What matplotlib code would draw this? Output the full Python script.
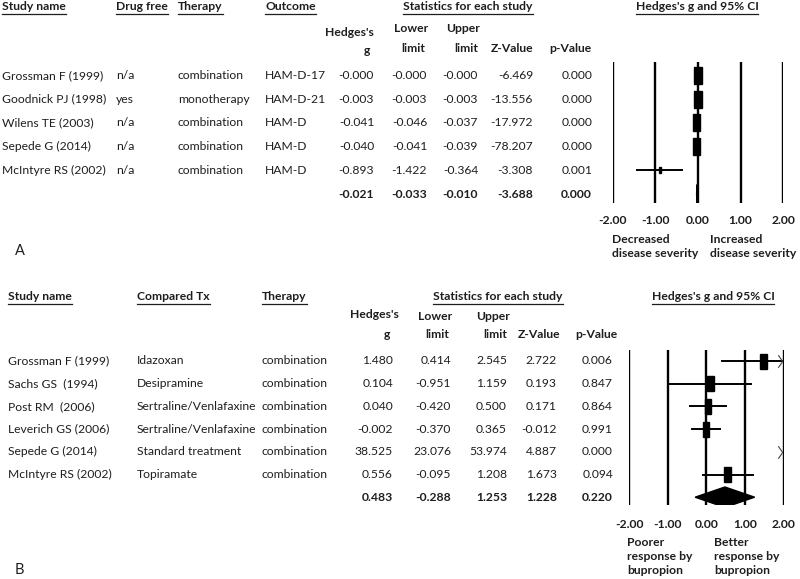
import numpy as np
import matplotlib
matplotlib.use("Agg")
import matplotlib.pyplot as plt
from matplotlib.patches import Rectangle, Polygon
from matplotlib.lines import Line2D
from matplotlib.path import Path

# ---------------- Data ----------------
# Panel A
a_study = ["Grossman F (1999)", "Goodnick PJ (1998)", "Wilens TE (2003)",
           "Sepede G (2014)", "McIntyre RS (2002)"]
a_drugfree = ["n/a", "yes", "n/a", "n/a", "n/a"]
a_therapy = ["combination", "monotherapy", "combination", "combination", "combination"]
a_outcome = ["HAM-D-17", "HAM-D-21", "HAM-D", "HAM-D", "HAM-D"]
a_g = [-0.000, -0.003, -0.041, -0.040, -0.893]
a_lower = [-0.000, -0.003, -0.046, -0.041, -1.422]
a_upper = [-0.000, -0.003, -0.037, -0.039, -0.364]
a_z = [-6.469, -13.556, -17.972, -78.207, -3.308]
a_p = [0.000, 0.000, 0.000, 0.000, 0.001]
a_sum = [-0.021, -0.033, -0.010, -3.688, 0.000]  # g, lower, upper, z, p
a_g_str = ["-0.000", "-0.003", "-0.041", "-0.040", "-0.893"]
a_lo_str = ["-0.000", "-0.003", "-0.046", "-0.041", "-1.422"]
a_up_str = ["-0.000", "-0.003", "-0.037", "-0.039", "-0.364"]

# Panel B
b_study = ["Grossman F (1999)", "Sachs GS  (1994)", "Post RM  (2006)",
           "Leverich GS (2006)", "Sepede G (2014)", "McIntyre RS (2002)"]
b_compared = ["Idazoxan", "Desipramine", "Sertraline/Venlafaxine",
              "Sertraline/Venlafaxine", "Standard treatment", "Topiramate"]
b_therapy = ["combination"] * 6
b_g = [1.480, 0.104, 0.040, -0.002, 38.525, 0.556]
b_lower = [0.414, -0.951, -0.420, -0.370, 23.076, -0.095]
b_upper = [2.545, 1.159, 0.500, 0.365, 53.974, 1.208]
b_z = [2.722, 0.193, 0.171, -0.012, 4.887, 1.673]
b_p = [0.006, 0.847, 0.864, 0.991, 0.000, 0.094]
b_sum = [0.483, -0.288, 1.253, 1.228, 0.220]

ticks = [-2.0, -1.0, 0.0, 1.0, 2.0]

# ---------------- Style / layout ----------------
W, H = 800, 579
FONT = ["Lato", "DejaVu Sans"]
FS = 8.7
TC = "#1e1e1e"
plt.rcParams["font.family"] = FONT

fig = plt.figure(figsize=(W / 100, H / 100), dpi=100)
fig.patch.set_facecolor("white")

def fx(x):
    return x / W

def fy(y):
    return 1 - y / H

def txt(x, y, s, ha="left", bold=False, size=FS):
    return fig.text(fx(x), fy(y), s, ha=ha, va="center", fontsize=size,
                    color=TC, fontweight="bold" if bold else "normal")

underlined = []

def hdr(x, y, s, ha="left"):
    t = txt(x, y, s, ha=ha, bold=True)
    underlined.append(t)
    return t

def fmt(v):
    return f"{v:.3f}"

# ---------------- Panel A table ----------------
ya_hdr = 7
hdr(2, ya_hdr, "Study name")
hdr(116, ya_hdr, "Drug free")
hdr(178, ya_hdr, "Therapy")
hdr(265, ya_hdr, "Outcome")
hdr(468, ya_hdr, "Statistics for each study", ha="center")
hdr(697, ya_hdr, "Hedges's g and 95% CI", ha="center")

txt(374, 33, "Hedges's", ha="right", bold=True)
txt(367, 50, "g", ha="center", bold=True)
txt(411, 29, "Lower", ha="center", bold=True)
txt(413, 48, "limit", ha="center", bold=True)
txt(463, 29, "Upper", ha="center", bold=True)
txt(478, 48, "limit", ha="right", bold=True)
txt(533, 48, "Z-Value", ha="right", bold=True)
txt(592, 48, "p-Value", ha="right", bold=True)

ya0, ya_step = 75.5, 23.7
for i in range(len(a_study)):
    y = ya0 + i * ya_step
    txt(2, y, a_study[i])
    txt(116, y, a_drugfree[i])
    txt(178, y, a_therapy[i])
    txt(265, y, a_outcome[i])
    txt(374, y, a_g_str[i], ha="right")
    txt(427, y, a_lo_str[i], ha="right")
    txt(478, y, a_up_str[i], ha="right")
    txt(533, y, fmt(a_z[i]), ha="right")
    txt(592, y, fmt(a_p[i]), ha="right")
ys = ya0 + len(a_study) * ya_step
for x, v in zip([374, 427, 478, 533, 592], a_sum):
    txt(x, ys, fmt(v), ha="right", bold=True)

# Panel A plot
ax_l, ax_r = 612.7, 783.3
top, bot = 62, 203
axA = fig.add_axes([fx(ax_l), fy(bot), (ax_r - ax_l) / W, (bot - top) / H])
axA.set_xlim(-2, 2)
axA.set_ylim((bot - ya0) / ya_step, (top - ya0) / ya_step)
axA.axis("off")
for t in ticks:
    axA.axvline(t, color="black", lw=1.7, zorder=1)
ppx_a = (ax_r - ax_l) / 4.0
a_box_w = [8, 8, 7, 7, 2]
a_box_h = [17, 17, 17, 17, 6]
for i in range(len(a_g)):
    lo, hi = max(a_lower[i], -2), min(a_upper[i], 2)
    axA.plot([lo, hi], [i, i], color="black", lw=1.4, zorder=2)
    w = a_box_w[i] / ppx_a
    h = a_box_h[i] / ya_step
    axA.add_patch(Rectangle((a_g[i] - w / 2, i - h / 2), w, h,
                            color="black", zorder=3))
n = len(a_g)
dh = 0.4
axA.add_patch(Polygon([(a_sum[1], n), (a_sum[0], n - dh), (a_sum[2], n), (a_sum[0], n + dh)],
                      closed=True, color="black", zorder=3))

for t in ticks:
    txt(ax_l + (t + 2) * ppx_a, 220, f"{t:.2f}", ha="center", bold=True)
txt(612, 240, "Decreased", bold=True)
txt(612, 254, "disease severity", bold=True)
txt(710, 240, "Increased", bold=True)
txt(710, 254, "disease severity", bold=True)
fig.text(fx(15), fy(251), "A", ha="left", va="center", fontsize=10.5, color=TC)

# ---------------- Panel B table ----------------
yb_hdr = 297
hdr(8, yb_hdr, "Study name")
hdr(137, yb_hdr, "Compared Tx")
hdr(262, yb_hdr, "Therapy")
hdr(498, yb_hdr, "Statistics for each study", ha="center")
hdr(713, yb_hdr, "Hedges's g and 95% CI", ha="center")

txt(374, 315, "Hedges's", ha="center", bold=True)
txt(387, 335, "g", ha="center", bold=True)
txt(435, 316, "Lower", ha="center", bold=True)
txt(437, 335, "limit", ha="center", bold=True)
txt(493, 316, "Upper", ha="center", bold=True)
txt(507, 335, "limit", ha="right", bold=True)
txt(539, 335, "Z-Value", ha="center", bold=True)
txt(596, 335, "p-Value", ha="center", bold=True)

yb0, yb_step = 361, 22.7
for i in range(len(b_study)):
    y = yb0 + i * yb_step
    txt(8, y, b_study[i])
    txt(137, y, b_compared[i])
    txt(262, y, b_therapy[i])
    txt(393, y, fmt(b_g[i]), ha="right")
    txt(451, y, fmt(b_lower[i]), ha="right")
    txt(507, y, fmt(b_upper[i]), ha="right")
    txt(557, y, fmt(b_z[i]), ha="right")
    txt(613, y, fmt(b_p[i]), ha="right")
ys = yb0 + len(b_study) * yb_step
for x, v in zip([393, 451, 507, 557, 613], b_sum):
    txt(x, ys, fmt(v), ha="right", bold=True)

# Panel B plot
bx_l, bx_r = 629, 783.5
topb, botb = 350, 505
axB = fig.add_axes([fx(bx_l), fy(botb), (bx_r - bx_l) / W, (botb - topb) / H])
axB.set_xlim(-2, 2)
axB.set_ylim((botb - yb0) / yb_step, (topb - yb0) / yb_step)
axB.axis("off")
for t in ticks:
    axB.axvline(t, color="black", lw=1.7, zorder=1)
ppx_b = (bx_r - bx_l) / 4.0
chev = Path([(-0.35, 1.0), (0.35, 0.0), (-0.35, -1.0)],
            [Path.MOVETO, Path.LINETO, Path.LINETO])
for i in range(len(b_g)):
    lo, hi = max(b_lower[i], -2), min(b_upper[i], 2)
    if lo < hi:
        axB.plot([lo, hi], [i, i], color="black", lw=1.4, zorder=2)
    if b_upper[i] > 2:
        axB.plot([1.92], [i], marker=chev, markersize=9, mfc="none",
                 mec="#444444", mew=0.8, zorder=4, clip_on=False)
    if -2 <= b_g[i] <= 2:
        w = 6.5 / ppx_b
        h = 15 / yb_step
        axB.add_patch(Rectangle((b_g[i] - w / 2, i - h / 2), w, h,
                                color="black", zorder=3))
n = len(b_g)
dh = 0.45
axB.add_patch(Polygon([(b_sum[1], n), (b_sum[0], n - dh), (b_sum[2], n), (b_sum[0], n + dh)],
                      closed=True, color="black", zorder=3))

for t in ticks:
    txt(bx_l + (t + 2) * ppx_b, 525, f"{t:.2f}", ha="center", bold=True)
txt(627, 543, "Poorer", bold=True)
txt(627, 557, "response by", bold=True)
txt(627, 571, "bupropion", bold=True)
txt(714, 543, "Better", bold=True)
txt(714, 557, "response by", bold=True)
txt(714, 571, "bupropion", bold=True)
fig.text(fx(15), fy(570), "B", ha="left", va="center", fontsize=10.5, color=TC)

# ---------------- Underlines ----------------
fig.canvas.draw()
r = fig.canvas.get_renderer()
for t in underlined:
    bb = t.get_window_extent(r)
    yline = bb.y0 - 1
    fig.add_artist(Line2D([bb.x0 / W, bb.x1 / W], [yline / H, yline / H],
                          transform=fig.transFigure, color=TC, lw=0.9))

fig.savefig("out.png", dpi=100, facecolor="white")
